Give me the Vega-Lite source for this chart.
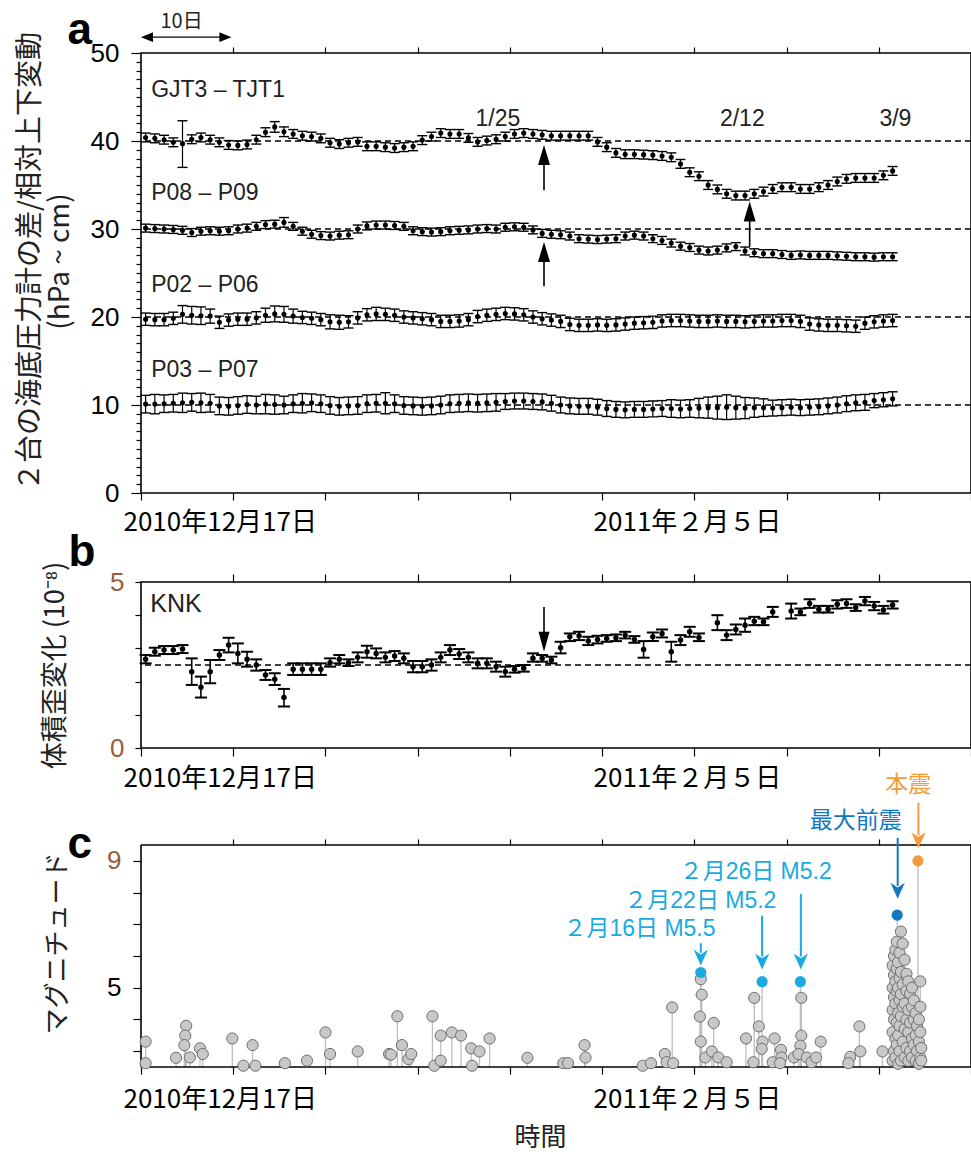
{
"$schema": "https://vega.github.io/schema/vega-lite/v6.json",
"background": "white",
"padding": {"left": 15, "top": 7, "right": 0, "bottom": 2},
"bounds": "flush",
"spacing": 89,
"config": {
  "view": {"stroke": "black", "strokeWidth": 1.6},
  "axis": {"grid": false, "domain": false, "tickColor": "black", "tickWidth": 1.2, "labelColor": "black", "labelFont": "Liberation Sans", "labelFontSize": 26, "labelLimit": 0, "titleFont": "Noto Sans CJK JP", "titleFontSize": 26, "titleFontWeight": "normal", "titleColor": "#222222", "labelOverlap": false, "labelFlush": false},
  "text": {"font": "Liberation Sans"}
},
"datasets": {
"pa": [
{"s":"G","d":0.5,"v":40.4,"lo":39.9,"hi":40.9},{"s":"G","d":1.5,"v":40.3,"lo":39.8,"hi":40.8},{"s":"G","d":2.5,"v":40.15,"lo":39.65,"hi":40.65},{"s":"G","d":3.5,"v":39.85,"lo":39.35,"hi":40.35},{"s":"G","d":4.5,"v":39.7,"lo":37.0,"hi":42.3},{"s":"G","d":5.5,"v":40.2,"lo":39.7,"hi":40.7},{"s":"G","d":6.5,"v":40.4,"lo":39.9,"hi":40.9},{"s":"G","d":7.5,"v":40.15,"lo":39.65,"hi":40.65},{"s":"G","d":8.5,"v":39.85,"lo":39.35,"hi":40.35},{"s":"G","d":9.5,"v":39.55,"lo":39.05,"hi":40.05},
{"s":"G","d":10.5,"v":39.5,"lo":39.0,"hi":40.0},{"s":"G","d":11.5,"v":39.6,"lo":39.1,"hi":40.1},{"s":"G","d":12.5,"v":40.15,"lo":39.65,"hi":40.65},{"s":"G","d":13.5,"v":41.0,"lo":40.5,"hi":41.5},{"s":"G","d":14.5,"v":41.6,"lo":41.0,"hi":42.2},{"s":"G","d":15.5,"v":41.05,"lo":40.5,"hi":41.6},{"s":"G","d":16.5,"v":40.8,"lo":40.3,"hi":41.3},{"s":"G","d":17.5,"v":40.6,"lo":40.1,"hi":41.1},{"s":"G","d":18.5,"v":40.5,"lo":40.0,"hi":41.0},{"s":"G","d":19.5,"v":40.3,"lo":39.8,"hi":40.8},
{"s":"G","d":20.5,"v":39.8,"lo":39.3,"hi":40.3},{"s":"G","d":21.5,"v":39.65,"lo":39.15,"hi":40.15},{"s":"G","d":22.5,"v":39.8,"lo":39.3,"hi":40.3},{"s":"G","d":23.5,"v":39.9,"lo":39.4,"hi":40.4},{"s":"G","d":24.5,"v":39.4,"lo":38.9,"hi":39.9},{"s":"G","d":25.5,"v":39.4,"lo":38.9,"hi":39.9},{"s":"G","d":26.5,"v":39.3,"lo":38.8,"hi":39.8},{"s":"G","d":27.5,"v":39.2,"lo":38.7,"hi":39.7},{"s":"G","d":28.5,"v":39.3,"lo":38.8,"hi":39.8},{"s":"G","d":29.5,"v":39.4,"lo":38.9,"hi":39.9},
{"s":"G","d":30.5,"v":40.1,"lo":39.6,"hi":40.6},{"s":"G","d":31.5,"v":40.5,"lo":40.0,"hi":41.0},{"s":"G","d":32.5,"v":40.9,"lo":40.4,"hi":41.4},{"s":"G","d":33.5,"v":40.8,"lo":40.3,"hi":41.3},{"s":"G","d":34.5,"v":40.8,"lo":40.3,"hi":41.3},{"s":"G","d":35.5,"v":40.35,"lo":39.85,"hi":40.85},{"s":"G","d":36.5,"v":39.9,"lo":39.4,"hi":40.4},{"s":"G","d":37.5,"v":40.05,"lo":39.55,"hi":40.55},{"s":"G","d":38.5,"v":40.2,"lo":39.7,"hi":40.7},{"s":"G","d":39.5,"v":40.5,"lo":40.0,"hi":41.0},
{"s":"G","d":40.5,"v":40.8,"lo":40.3,"hi":41.3},{"s":"G","d":41.5,"v":40.9,"lo":40.4,"hi":41.4},{"s":"G","d":42.5,"v":40.8,"lo":40.3,"hi":41.3},{"s":"G","d":43.5,"v":40.7,"lo":40.2,"hi":41.2},{"s":"G","d":44.5,"v":40.6,"lo":40.1,"hi":41.1},{"s":"G","d":45.5,"v":40.6,"lo":40.1,"hi":41.1},{"s":"G","d":46.5,"v":40.6,"lo":40.1,"hi":41.1},{"s":"G","d":47.5,"v":40.6,"lo":40.1,"hi":41.1},{"s":"G","d":48.5,"v":40.6,"lo":40.1,"hi":41.1},{"s":"G","d":49.5,"v":39.9,"lo":39.4,"hi":40.4},
{"s":"G","d":50.5,"v":39.3,"lo":38.8,"hi":39.8},{"s":"G","d":51.5,"v":38.65,"lo":38.15,"hi":39.15},{"s":"G","d":52.5,"v":38.5,"lo":38.0,"hi":39.0},{"s":"G","d":53.5,"v":38.5,"lo":38.0,"hi":39.0},{"s":"G","d":54.5,"v":38.45,"lo":37.95,"hi":38.95},{"s":"G","d":55.5,"v":38.4,"lo":37.9,"hi":38.9},{"s":"G","d":56.5,"v":38.3,"lo":37.8,"hi":38.8},{"s":"G","d":57.5,"v":38.15,"lo":37.65,"hi":38.65},{"s":"G","d":58.5,"v":37.4,"lo":36.9,"hi":37.9},{"s":"G","d":59.5,"v":36.45,"lo":35.95,"hi":36.95},
{"s":"G","d":60.5,"v":36.0,"lo":35.5,"hi":36.5},{"s":"G","d":61.5,"v":35.0,"lo":34.5,"hi":35.5},{"s":"G","d":62.5,"v":34.5,"lo":34.0,"hi":35.0},{"s":"G","d":63.5,"v":34.0,"lo":33.5,"hi":34.5},{"s":"G","d":64.5,"v":33.8,"lo":33.3,"hi":34.3},{"s":"G","d":65.5,"v":33.8,"lo":33.3,"hi":34.3},{"s":"G","d":66.5,"v":34.0,"lo":33.5,"hi":34.5},{"s":"G","d":67.5,"v":34.25,"lo":33.75,"hi":34.75},{"s":"G","d":68.5,"v":34.55,"lo":34.05,"hi":35.05},{"s":"G","d":69.5,"v":34.75,"lo":34.25,"hi":35.25},
{"s":"G","d":70.5,"v":34.75,"lo":34.25,"hi":35.25},{"s":"G","d":71.5,"v":34.55,"lo":34.05,"hi":35.05},{"s":"G","d":72.5,"v":34.55,"lo":34.05,"hi":35.05},{"s":"G","d":73.5,"v":34.75,"lo":34.25,"hi":35.25},{"s":"G","d":74.5,"v":35.0,"lo":34.5,"hi":35.5},{"s":"G","d":75.5,"v":35.4,"lo":34.9,"hi":35.9},{"s":"G","d":76.5,"v":35.7,"lo":35.2,"hi":36.2},{"s":"G","d":77.5,"v":35.8,"lo":35.3,"hi":36.3},{"s":"G","d":78.5,"v":35.8,"lo":35.3,"hi":36.3},{"s":"G","d":79.5,"v":35.8,"lo":35.3,"hi":36.3},
{"s":"G","d":80.5,"v":36.1,"lo":35.6,"hi":36.6},{"s":"G","d":81.5,"v":36.6,"lo":36.1,"hi":37.1},
{"s":"P8","d":0.5,"v":30.1,"lo":29.65,"hi":30.55},{"s":"P8","d":1.5,"v":30.05,"lo":29.6,"hi":30.5},{"s":"P8","d":2.5,"v":30.0,"lo":29.55,"hi":30.45},{"s":"P8","d":3.5,"v":29.95,"lo":29.5,"hi":30.4},{"s":"P8","d":4.5,"v":29.85,"lo":29.4,"hi":30.3},{"s":"P8","d":5.5,"v":29.6,"lo":29.15,"hi":30.05},{"s":"P8","d":6.5,"v":29.75,"lo":29.3,"hi":30.2},{"s":"P8","d":7.5,"v":29.8,"lo":29.35,"hi":30.25},{"s":"P8","d":8.5,"v":29.75,"lo":29.3,"hi":30.2},{"s":"P8","d":9.5,"v":29.8,"lo":29.35,"hi":30.25},
{"s":"P8","d":10.5,"v":30.0,"lo":29.55,"hi":30.45},{"s":"P8","d":11.5,"v":30.1,"lo":29.65,"hi":30.55},{"s":"P8","d":12.5,"v":30.3,"lo":29.85,"hi":30.75},{"s":"P8","d":13.5,"v":30.5,"lo":30.05,"hi":30.95},{"s":"P8","d":14.5,"v":30.55,"lo":30.1,"hi":31.0},{"s":"P8","d":15.5,"v":30.75,"lo":30.2,"hi":31.3},{"s":"P8","d":16.5,"v":30.3,"lo":29.85,"hi":30.75},{"s":"P8","d":17.5,"v":29.75,"lo":29.3,"hi":30.2},{"s":"P8","d":18.5,"v":29.4,"lo":28.95,"hi":29.85},{"s":"P8","d":19.5,"v":29.25,"lo":28.8,"hi":29.7},
{"s":"P8","d":20.5,"v":29.2,"lo":28.75,"hi":29.65},{"s":"P8","d":21.5,"v":29.3,"lo":28.85,"hi":29.75},{"s":"P8","d":22.5,"v":29.35,"lo":28.9,"hi":29.8},{"s":"P8","d":23.5,"v":30.0,"lo":29.55,"hi":30.45},{"s":"P8","d":24.5,"v":30.35,"lo":29.9,"hi":30.8},{"s":"P8","d":25.5,"v":30.45,"lo":30.0,"hi":30.9},{"s":"P8","d":26.5,"v":30.45,"lo":30.0,"hi":30.9},{"s":"P8","d":27.5,"v":30.4,"lo":29.95,"hi":30.85},{"s":"P8","d":28.5,"v":30.3,"lo":29.85,"hi":30.75},{"s":"P8","d":29.5,"v":29.8,"lo":29.35,"hi":30.25},
{"s":"P8","d":30.5,"v":29.7,"lo":29.25,"hi":30.15},{"s":"P8","d":31.5,"v":29.65,"lo":29.2,"hi":30.1},{"s":"P8","d":32.5,"v":29.7,"lo":29.25,"hi":30.15},{"s":"P8","d":33.5,"v":29.8,"lo":29.35,"hi":30.25},{"s":"P8","d":34.5,"v":29.85,"lo":29.4,"hi":30.3},{"s":"P8","d":35.5,"v":29.9,"lo":29.45,"hi":30.35},{"s":"P8","d":36.5,"v":30.0,"lo":29.55,"hi":30.45},{"s":"P8","d":37.5,"v":30.05,"lo":29.6,"hi":30.5},{"s":"P8","d":38.5,"v":30.0,"lo":29.55,"hi":30.45},{"s":"P8","d":39.5,"v":30.2,"lo":29.75,"hi":30.65},
{"s":"P8","d":40.5,"v":30.25,"lo":29.8,"hi":30.7},{"s":"P8","d":41.5,"v":30.2,"lo":29.75,"hi":30.65},{"s":"P8","d":42.5,"v":29.9,"lo":29.45,"hi":30.35},{"s":"P8","d":43.5,"v":29.5,"lo":29.05,"hi":29.95},{"s":"P8","d":44.5,"v":29.4,"lo":28.95,"hi":29.85},{"s":"P8","d":45.5,"v":29.35,"lo":28.9,"hi":29.8},{"s":"P8","d":46.5,"v":29.2,"lo":28.75,"hi":29.65},{"s":"P8","d":47.5,"v":28.9,"lo":28.45,"hi":29.35},{"s":"P8","d":48.5,"v":28.85,"lo":28.4,"hi":29.3},{"s":"P8","d":49.5,"v":28.8,"lo":28.35,"hi":29.25},
{"s":"P8","d":50.5,"v":28.85,"lo":28.4,"hi":29.3},{"s":"P8","d":51.5,"v":28.9,"lo":28.45,"hi":29.35},{"s":"P8","d":52.5,"v":29.2,"lo":28.75,"hi":29.65},{"s":"P8","d":53.5,"v":29.3,"lo":28.85,"hi":29.75},{"s":"P8","d":54.5,"v":29.2,"lo":28.75,"hi":29.65},{"s":"P8","d":55.5,"v":28.9,"lo":28.45,"hi":29.35},{"s":"P8","d":56.5,"v":28.7,"lo":28.25,"hi":29.15},{"s":"P8","d":57.5,"v":28.4,"lo":27.95,"hi":28.85},{"s":"P8","d":58.5,"v":28.05,"lo":27.6,"hi":28.5},{"s":"P8","d":59.5,"v":27.9,"lo":27.45,"hi":28.35},
{"s":"P8","d":60.5,"v":27.6,"lo":27.15,"hi":28.05},{"s":"P8","d":61.5,"v":27.5,"lo":27.05,"hi":27.95},{"s":"P8","d":62.5,"v":27.6,"lo":27.15,"hi":28.05},{"s":"P8","d":63.5,"v":27.85,"lo":27.4,"hi":28.3},{"s":"P8","d":64.5,"v":28.0,"lo":27.55,"hi":28.45},{"s":"P8","d":65.5,"v":27.5,"lo":27.05,"hi":27.95},{"s":"P8","d":66.5,"v":27.3,"lo":26.85,"hi":27.75},{"s":"P8","d":67.5,"v":27.2,"lo":26.75,"hi":27.65},{"s":"P8","d":68.5,"v":27.2,"lo":26.75,"hi":27.65},{"s":"P8","d":69.5,"v":27.1,"lo":26.65,"hi":27.55},
{"s":"P8","d":70.5,"v":27.0,"lo":26.55,"hi":27.45},{"s":"P8","d":71.5,"v":27.05,"lo":26.6,"hi":27.5},{"s":"P8","d":72.5,"v":27.0,"lo":26.55,"hi":27.45},{"s":"P8","d":73.5,"v":27.0,"lo":26.55,"hi":27.45},{"s":"P8","d":74.5,"v":27.0,"lo":26.55,"hi":27.45},{"s":"P8","d":75.5,"v":26.95,"lo":26.5,"hi":27.4},{"s":"P8","d":76.5,"v":26.9,"lo":26.45,"hi":27.35},{"s":"P8","d":77.5,"v":26.85,"lo":26.4,"hi":27.3},{"s":"P8","d":78.5,"v":26.85,"lo":26.4,"hi":27.3},{"s":"P8","d":79.5,"v":26.8,"lo":26.35,"hi":27.25},
{"s":"P8","d":80.5,"v":26.85,"lo":26.4,"hi":27.3},{"s":"P8","d":81.5,"v":26.85,"lo":26.4,"hi":27.3},
{"s":"P2","d":0.5,"v":19.75,"lo":19.05,"hi":20.45},{"s":"P2","d":1.5,"v":19.7,"lo":19.0,"hi":20.4},{"s":"P2","d":2.5,"v":19.7,"lo":19.0,"hi":20.4},{"s":"P2","d":3.5,"v":19.85,"lo":19.15,"hi":20.55},{"s":"P2","d":4.5,"v":20.3,"lo":19.3,"hi":21.3},{"s":"P2","d":5.5,"v":20.2,"lo":19.2,"hi":21.2},{"s":"P2","d":6.5,"v":20.15,"lo":19.15,"hi":21.15},{"s":"P2","d":7.5,"v":20.1,"lo":19.3,"hi":20.9},{"s":"P2","d":8.5,"v":19.4,"lo":18.7,"hi":20.1},{"s":"P2","d":9.5,"v":19.65,"lo":18.95,"hi":20.35},
{"s":"P2","d":10.5,"v":19.75,"lo":19.05,"hi":20.45},{"s":"P2","d":11.5,"v":19.75,"lo":19.05,"hi":20.45},{"s":"P2","d":12.5,"v":19.9,"lo":19.2,"hi":20.6},{"s":"P2","d":13.5,"v":20.2,"lo":19.4,"hi":21.0},{"s":"P2","d":14.5,"v":20.35,"lo":19.45,"hi":21.25},{"s":"P2","d":15.5,"v":20.3,"lo":19.4,"hi":21.2},{"s":"P2","d":16.5,"v":20.1,"lo":19.3,"hi":20.9},{"s":"P2","d":17.5,"v":19.95,"lo":19.25,"hi":20.65},{"s":"P2","d":18.5,"v":19.85,"lo":19.15,"hi":20.55},{"s":"P2","d":19.5,"v":19.7,"lo":19.0,"hi":20.4},
{"s":"P2","d":20.5,"v":19.45,"lo":18.65,"hi":20.25},{"s":"P2","d":21.5,"v":19.4,"lo":18.6,"hi":20.2},{"s":"P2","d":22.5,"v":19.45,"lo":18.75,"hi":20.15},{"s":"P2","d":23.5,"v":19.9,"lo":19.2,"hi":20.6},{"s":"P2","d":24.5,"v":20.25,"lo":19.55,"hi":20.95},{"s":"P2","d":25.5,"v":20.35,"lo":19.6,"hi":21.1},{"s":"P2","d":26.5,"v":20.3,"lo":19.6,"hi":21.0},{"s":"P2","d":27.5,"v":20.2,"lo":19.5,"hi":20.9},{"s":"P2","d":28.5,"v":20.0,"lo":19.3,"hi":20.7},{"s":"P2","d":29.5,"v":19.9,"lo":19.2,"hi":20.6},
{"s":"P2","d":30.5,"v":19.8,"lo":19.1,"hi":20.5},{"s":"P2","d":31.5,"v":19.7,"lo":19.0,"hi":20.4},{"s":"P2","d":32.5,"v":19.5,"lo":18.8,"hi":20.2},{"s":"P2","d":33.5,"v":19.5,"lo":18.8,"hi":20.2},{"s":"P2","d":34.5,"v":19.55,"lo":18.85,"hi":20.25},{"s":"P2","d":35.5,"v":19.7,"lo":19.0,"hi":20.4},{"s":"P2","d":36.5,"v":20.05,"lo":19.35,"hi":20.75},{"s":"P2","d":37.5,"v":20.2,"lo":19.5,"hi":20.9},{"s":"P2","d":38.5,"v":20.3,"lo":19.6,"hi":21.0},{"s":"P2","d":39.5,"v":20.4,"lo":19.7,"hi":21.1},
{"s":"P2","d":40.5,"v":20.35,"lo":19.65,"hi":21.05},{"s":"P2","d":41.5,"v":20.25,"lo":19.55,"hi":20.95},{"s":"P2","d":42.5,"v":20.0,"lo":19.3,"hi":20.7},{"s":"P2","d":43.5,"v":19.8,"lo":19.1,"hi":20.5},{"s":"P2","d":44.5,"v":19.65,"lo":18.95,"hi":20.35},{"s":"P2","d":45.5,"v":19.5,"lo":18.8,"hi":20.2},{"s":"P2","d":46.5,"v":19.15,"lo":18.45,"hi":19.85},{"s":"P2","d":47.5,"v":19.05,"lo":18.35,"hi":19.75},{"s":"P2","d":48.5,"v":19.05,"lo":18.35,"hi":19.75},{"s":"P2","d":49.5,"v":19.1,"lo":18.4,"hi":19.8},
{"s":"P2","d":50.5,"v":19.05,"lo":18.35,"hi":19.75},{"s":"P2","d":51.5,"v":19.1,"lo":18.4,"hi":19.8},{"s":"P2","d":52.5,"v":19.2,"lo":18.5,"hi":19.9},{"s":"P2","d":53.5,"v":19.3,"lo":18.6,"hi":20.0},{"s":"P2","d":54.5,"v":19.35,"lo":18.65,"hi":20.05},{"s":"P2","d":55.5,"v":19.4,"lo":18.7,"hi":20.1},{"s":"P2","d":56.5,"v":19.55,"lo":18.85,"hi":20.25},{"s":"P2","d":57.5,"v":19.6,"lo":18.9,"hi":20.3},{"s":"P2","d":58.5,"v":19.6,"lo":18.9,"hi":20.3},{"s":"P2","d":59.5,"v":19.55,"lo":18.85,"hi":20.25},
{"s":"P2","d":60.5,"v":19.5,"lo":18.8,"hi":20.2},{"s":"P2","d":61.5,"v":19.5,"lo":18.8,"hi":20.2},{"s":"P2","d":62.5,"v":19.55,"lo":18.85,"hi":20.25},{"s":"P2","d":63.5,"v":19.5,"lo":18.8,"hi":20.2},{"s":"P2","d":64.5,"v":19.5,"lo":18.8,"hi":20.2},{"s":"P2","d":65.5,"v":19.45,"lo":18.75,"hi":20.15},{"s":"P2","d":66.5,"v":19.5,"lo":18.8,"hi":20.2},{"s":"P2","d":67.5,"v":19.55,"lo":18.85,"hi":20.25},{"s":"P2","d":68.5,"v":19.55,"lo":18.85,"hi":20.25},{"s":"P2","d":69.5,"v":19.6,"lo":18.9,"hi":20.3},
{"s":"P2","d":70.5,"v":19.6,"lo":18.9,"hi":20.3},{"s":"P2","d":71.5,"v":19.5,"lo":18.8,"hi":20.2},{"s":"P2","d":72.5,"v":19.2,"lo":18.5,"hi":19.9},{"s":"P2","d":73.5,"v":19.1,"lo":18.4,"hi":19.8},{"s":"P2","d":74.5,"v":19.05,"lo":18.35,"hi":19.75},{"s":"P2","d":75.5,"v":19.05,"lo":18.35,"hi":19.75},{"s":"P2","d":76.5,"v":19.0,"lo":18.3,"hi":19.7},{"s":"P2","d":77.5,"v":18.95,"lo":18.25,"hi":19.65},{"s":"P2","d":78.5,"v":19.3,"lo":18.6,"hi":20.0},{"s":"P2","d":79.5,"v":19.45,"lo":18.75,"hi":20.15},
{"s":"P2","d":80.5,"v":19.55,"lo":18.85,"hi":20.25},{"s":"P2","d":81.5,"v":19.6,"lo":18.9,"hi":20.3},
{"s":"P3","d":0.5,"v":10.1,"lo":9.1,"hi":11.1},{"s":"P3","d":1.5,"v":10.1,"lo":9.0,"hi":11.2},{"s":"P3","d":2.5,"v":10.15,"lo":9.15,"hi":11.15},{"s":"P3","d":3.5,"v":10.2,"lo":9.2,"hi":11.2},{"s":"P3","d":4.5,"v":10.25,"lo":9.15,"hi":11.35},{"s":"P3","d":5.5,"v":10.3,"lo":9.3,"hi":11.3},{"s":"P3","d":6.5,"v":10.25,"lo":9.15,"hi":11.35},{"s":"P3","d":7.5,"v":10.2,"lo":9.2,"hi":11.2},{"s":"P3","d":8.5,"v":9.9,"lo":8.9,"hi":10.9},{"s":"P3","d":9.5,"v":9.85,"lo":8.85,"hi":10.85},
{"s":"P3","d":10.5,"v":9.95,"lo":8.95,"hi":10.95},{"s":"P3","d":11.5,"v":10.05,"lo":9.05,"hi":11.05},{"s":"P3","d":12.5,"v":10.0,"lo":9.0,"hi":11.0},{"s":"P3","d":13.5,"v":10.1,"lo":9.0,"hi":11.2},{"s":"P3","d":14.5,"v":10.05,"lo":8.95,"hi":11.15},{"s":"P3","d":15.5,"v":10.0,"lo":9.0,"hi":11.0},{"s":"P3","d":16.5,"v":10.15,"lo":9.15,"hi":11.15},{"s":"P3","d":17.5,"v":10.2,"lo":9.1,"hi":11.3},{"s":"P3","d":18.5,"v":10.25,"lo":9.25,"hi":11.25},{"s":"P3","d":19.5,"v":10.15,"lo":9.15,"hi":11.15},
{"s":"P3","d":20.5,"v":9.95,"lo":8.95,"hi":10.95},{"s":"P3","d":21.5,"v":9.85,"lo":8.85,"hi":10.85},{"s":"P3","d":22.5,"v":9.9,"lo":8.9,"hi":10.9},{"s":"P3","d":23.5,"v":9.95,"lo":8.95,"hi":10.95},{"s":"P3","d":24.5,"v":10.15,"lo":9.15,"hi":11.15},{"s":"P3","d":25.5,"v":10.2,"lo":9.2,"hi":11.2},{"s":"P3","d":26.5,"v":10.2,"lo":9.0,"hi":11.4},{"s":"P3","d":27.5,"v":10.15,"lo":9.15,"hi":11.15},{"s":"P3","d":28.5,"v":9.95,"lo":8.95,"hi":10.95},{"s":"P3","d":29.5,"v":9.9,"lo":8.9,"hi":10.9},
{"s":"P3","d":30.5,"v":9.85,"lo":8.85,"hi":10.85},{"s":"P3","d":31.5,"v":9.9,"lo":8.9,"hi":10.9},{"s":"P3","d":32.5,"v":10.0,"lo":9.0,"hi":11.0},{"s":"P3","d":33.5,"v":10.15,"lo":9.15,"hi":11.15},{"s":"P3","d":34.5,"v":10.2,"lo":9.2,"hi":11.2},{"s":"P3","d":35.5,"v":10.25,"lo":9.25,"hi":11.25},{"s":"P3","d":36.5,"v":10.2,"lo":9.2,"hi":11.2},{"s":"P3","d":37.5,"v":10.25,"lo":9.25,"hi":11.25},{"s":"P3","d":38.5,"v":10.3,"lo":9.3,"hi":11.3},{"s":"P3","d":39.5,"v":10.4,"lo":9.5,"hi":11.3},
{"s":"P3","d":40.5,"v":10.45,"lo":9.55,"hi":11.35},{"s":"P3","d":41.5,"v":10.45,"lo":9.55,"hi":11.35},{"s":"P3","d":42.5,"v":10.4,"lo":9.5,"hi":11.3},{"s":"P3","d":43.5,"v":10.35,"lo":9.45,"hi":11.25},{"s":"P3","d":44.5,"v":10.2,"lo":9.3,"hi":11.1},{"s":"P3","d":45.5,"v":10.0,"lo":9.1,"hi":10.9},{"s":"P3","d":46.5,"v":9.9,"lo":9.0,"hi":10.8},{"s":"P3","d":47.5,"v":9.85,"lo":8.95,"hi":10.75},{"s":"P3","d":48.5,"v":9.85,"lo":8.95,"hi":10.75},{"s":"P3","d":49.5,"v":9.75,"lo":8.85,"hi":10.65},
{"s":"P3","d":50.5,"v":9.6,"lo":8.7,"hi":10.5},{"s":"P3","d":51.5,"v":9.5,"lo":8.6,"hi":10.4},{"s":"P3","d":52.5,"v":9.45,"lo":8.55,"hi":10.35},{"s":"P3","d":53.5,"v":9.5,"lo":8.6,"hi":10.4},{"s":"P3","d":54.5,"v":9.5,"lo":8.6,"hi":10.4},{"s":"P3","d":55.5,"v":9.55,"lo":8.65,"hi":10.45},{"s":"P3","d":56.5,"v":9.6,"lo":8.7,"hi":10.5},{"s":"P3","d":57.5,"v":9.6,"lo":8.6,"hi":10.6},{"s":"P3","d":58.5,"v":9.55,"lo":8.55,"hi":10.55},{"s":"P3","d":59.5,"v":9.6,"lo":8.6,"hi":10.6},
{"s":"P3","d":60.5,"v":9.65,"lo":8.55,"hi":10.75},{"s":"P3","d":61.5,"v":9.7,"lo":8.5,"hi":10.9},{"s":"P3","d":62.5,"v":9.7,"lo":8.4,"hi":11.0},{"s":"P3","d":63.5,"v":9.75,"lo":8.35,"hi":11.15},{"s":"P3","d":64.5,"v":9.7,"lo":8.4,"hi":11.0},{"s":"P3","d":65.5,"v":9.65,"lo":8.45,"hi":10.85},{"s":"P3","d":66.5,"v":9.7,"lo":8.6,"hi":10.8},{"s":"P3","d":67.5,"v":9.7,"lo":8.7,"hi":10.7},{"s":"P3","d":68.5,"v":9.65,"lo":8.75,"hi":10.55},{"s":"P3","d":69.5,"v":9.7,"lo":8.8,"hi":10.6},
{"s":"P3","d":70.5,"v":9.75,"lo":8.85,"hi":10.65},{"s":"P3","d":71.5,"v":9.7,"lo":8.8,"hi":10.6},{"s":"P3","d":72.5,"v":9.75,"lo":8.85,"hi":10.65},{"s":"P3","d":73.5,"v":9.8,"lo":8.9,"hi":10.7},{"s":"P3","d":74.5,"v":9.9,"lo":9.0,"hi":10.8},{"s":"P3","d":75.5,"v":10.0,"lo":9.1,"hi":10.9},{"s":"P3","d":76.5,"v":10.15,"lo":9.25,"hi":11.05},{"s":"P3","d":77.5,"v":10.25,"lo":9.35,"hi":11.15},{"s":"P3","d":78.5,"v":10.3,"lo":9.4,"hi":11.2},{"s":"P3","d":79.5,"v":10.5,"lo":9.7,"hi":11.3},
{"s":"P3","d":80.5,"v":10.6,"lo":9.8,"hi":11.4},{"s":"P3","d":81.5,"v":10.7,"lo":9.9,"hi":11.5}
],
"pb": [
{"d":0.5,"v":2.67,"lo":2.55,"hi":2.8},{"d":1.5,"v":2.9,"lo":2.78,"hi":3.02},{"d":2.5,"v":2.95,"lo":2.83,"hi":3.07},{"d":3.5,"v":2.95,"lo":2.83,"hi":3.07},{"d":4.5,"v":2.98,"lo":2.86,"hi":3.1},{"d":5.5,"v":2.3,"lo":1.9,"hi":2.7},{"d":6.5,"v":1.83,"lo":1.52,"hi":2.15},{"d":7.5,"v":2.3,"lo":1.95,"hi":2.65},{"d":8.5,"v":2.8,"lo":2.65,"hi":2.95},{"d":9.5,"v":3.1,"lo":2.88,"hi":3.32},
{"d":10.5,"v":2.85,"lo":2.55,"hi":3.15},{"d":11.5,"v":2.67,"lo":2.45,"hi":2.9},{"d":12.5,"v":2.5,"lo":2.33,"hi":2.67},{"d":13.5,"v":2.2,"lo":2.05,"hi":2.35},{"d":14.5,"v":2.07,"lo":1.9,"hi":2.25},{"d":15.5,"v":1.52,"lo":1.25,"hi":1.78},{"d":16.5,"v":2.37,"lo":2.2,"hi":2.55},{"d":17.5,"v":2.37,"lo":2.2,"hi":2.55},{"d":18.5,"v":2.37,"lo":2.2,"hi":2.55},{"d":19.5,"v":2.37,"lo":2.2,"hi":2.55},
{"d":20.5,"v":2.57,"lo":2.45,"hi":2.7},{"d":21.5,"v":2.67,"lo":2.55,"hi":2.8},{"d":22.5,"v":2.57,"lo":2.47,"hi":2.67},{"d":23.5,"v":2.73,"lo":2.58,"hi":2.88},{"d":24.5,"v":2.9,"lo":2.72,"hi":3.08},{"d":25.5,"v":2.85,"lo":2.7,"hi":3.0},{"d":26.5,"v":2.73,"lo":2.58,"hi":2.88},{"d":27.5,"v":2.77,"lo":2.62,"hi":2.92},{"d":28.5,"v":2.7,"lo":2.55,"hi":2.85},{"d":29.5,"v":2.45,"lo":2.28,"hi":2.62},
{"d":30.5,"v":2.45,"lo":2.28,"hi":2.62},{"d":31.5,"v":2.5,"lo":2.33,"hi":2.67},{"d":32.5,"v":2.73,"lo":2.58,"hi":2.88},{"d":33.5,"v":2.95,"lo":2.8,"hi":3.1},{"d":34.5,"v":2.83,"lo":2.68,"hi":2.98},{"d":35.5,"v":2.73,"lo":2.58,"hi":2.88},{"d":36.5,"v":2.55,"lo":2.4,"hi":2.7},{"d":37.5,"v":2.55,"lo":2.4,"hi":2.7},{"d":38.5,"v":2.45,"lo":2.3,"hi":2.6},{"d":39.5,"v":2.3,"lo":2.15,"hi":2.45},
{"d":40.5,"v":2.37,"lo":2.27,"hi":2.47},{"d":41.5,"v":2.4,"lo":2.3,"hi":2.5},{"d":42.5,"v":2.7,"lo":2.6,"hi":2.85},{"d":43.5,"v":2.7,"lo":2.6,"hi":2.8},{"d":44.5,"v":2.65,"lo":2.55,"hi":2.75},{"d":45.5,"v":3.02,"lo":2.85,"hi":3.2},{"d":46.5,"v":3.35,"lo":3.22,"hi":3.45},{"d":47.5,"v":3.38,"lo":3.25,"hi":3.5},{"d":48.5,"v":3.22,"lo":3.1,"hi":3.35},{"d":49.5,"v":3.27,"lo":3.15,"hi":3.38},
{"d":50.5,"v":3.3,"lo":3.2,"hi":3.4},{"d":51.5,"v":3.32,"lo":3.22,"hi":3.42},{"d":52.5,"v":3.4,"lo":3.3,"hi":3.5},{"d":53.5,"v":3.27,"lo":3.17,"hi":3.37},{"d":54.5,"v":2.97,"lo":2.72,"hi":3.22},{"d":55.5,"v":3.35,"lo":3.22,"hi":3.48},{"d":56.5,"v":3.45,"lo":3.33,"hi":3.57},{"d":57.5,"v":2.9,"lo":2.6,"hi":3.2},{"d":58.5,"v":3.25,"lo":3.1,"hi":3.4},{"d":59.5,"v":3.5,"lo":3.35,"hi":3.65},
{"d":60.5,"v":3.33,"lo":3.22,"hi":3.45},{"d":62.5,"v":3.77,"lo":3.55,"hi":4.0},{"d":63.5,"v":3.4,"lo":3.25,"hi":3.55},{"d":64.5,"v":3.57,"lo":3.42,"hi":3.72},{"d":65.5,"v":3.7,"lo":3.5,"hi":3.9},{"d":66.5,"v":3.82,"lo":3.7,"hi":3.95},{"d":67.5,"v":3.8,"lo":3.7,"hi":3.9},{"d":68.5,"v":4.1,"lo":3.95,"hi":4.25},
{"d":70.5,"v":4.13,"lo":3.9,"hi":4.35},{"d":71.5,"v":4.1,"lo":4.0,"hi":4.2},{"d":72.5,"v":4.35,"lo":4.22,"hi":4.48},{"d":73.5,"v":4.18,"lo":4.08,"hi":4.28},{"d":74.5,"v":4.18,"lo":4.08,"hi":4.28},{"d":75.5,"v":4.33,"lo":4.2,"hi":4.45},{"d":76.5,"v":4.35,"lo":4.22,"hi":4.48},{"d":77.5,"v":4.23,"lo":4.13,"hi":4.33},{"d":78.5,"v":4.43,"lo":4.3,"hi":4.55},{"d":79.5,"v":4.28,"lo":4.15,"hi":4.4},
{"d":80.5,"v":4.16,"lo":4.05,"hi":4.28},{"d":81.5,"v":4.31,"lo":4.2,"hi":4.42}
],
"pc": [
{"d":0.5,"m":3.3,"t":"g"},{"d":0.5,"m":2.62,"t":"g"},{"d":3.8,"m":2.79,"t":"g"},{"d":4.9,"m":3.8,"t":"g"},{"d":4.8,"m":3.49,"t":"g"},{"d":4.7,"m":3.19,"t":"g"},{"d":5.3,"m":2.8,"t":"g"},{"d":6.4,"m":3.09,"t":"g"},{"d":6.7,"m":2.91,"t":"g"},{"d":9.9,"m":3.4,"t":"g"},
{"d":11.1,"m":2.54,"t":"g"},{"d":12.1,"m":3.19,"t":"g"},{"d":12.4,"m":2.54,"t":"g"},{"d":15.6,"m":2.62,"t":"g"},{"d":18.0,"m":2.7,"t":"g"},{"d":20.0,"m":3.59,"t":"g"},{"d":20.5,"m":2.91,"t":"g"},{"d":23.5,"m":2.99,"t":"g"},{"d":26.9,"m":2.91,"t":"g"},{"d":27.1,"m":2.89,"t":"g"},
{"d":27.8,"m":4.1,"t":"g"},{"d":28.3,"m":3.19,"t":"g"},{"d":29.0,"m":2.75,"t":"g"},{"d":29.3,"m":2.91,"t":"g"},{"d":31.6,"m":4.1,"t":"g"},{"d":31.8,"m":2.54,"t":"g"},{"d":32.5,"m":3.49,"t":"g"},{"d":32.5,"m":2.7,"t":"g"},{"d":33.7,"m":3.59,"t":"g"},{"d":34.7,"m":3.49,"t":"g"},
{"d":35.8,"m":3.09,"t":"g"},{"d":35.9,"m":2.54,"t":"g"},{"d":36.7,"m":2.99,"t":"g"},{"d":37.8,"m":3.4,"t":"g"},{"d":41.9,"m":2.79,"t":"g"},{"d":45.8,"m":2.62,"t":"g"},{"d":46.3,"m":2.62,"t":"g"},{"d":48.1,"m":3.19,"t":"g"},{"d":48.2,"m":2.8,"t":"g"},{"d":54.4,"m":2.54,"t":"g"},
{"d":55.3,"m":2.62,"t":"g"},{"d":56.8,"m":2.91,"t":"g"},{"d":57.6,"m":4.38,"t":"g"},{"d":57.0,"m":2.65,"t":"g"},{"d":57.7,"m":2.62,"t":"g"},{"d":60.7,"m":5.27,"t":"g"},{"d":60.8,"m":4.78,"t":"g"},{"d":60.6,"m":4.09,"t":"g"},{"d":60.7,"m":3.3,"t":"g"},{"d":61.2,"m":2.8,"t":"g"},
{"d":61.9,"m":2.99,"t":"g"},{"d":62.1,"m":3.89,"t":"g"},{"d":62.6,"m":2.8,"t":"g"},{"d":63.5,"m":2.65,"t":"g"},{"d":65.6,"m":3.4,"t":"g"},{"d":66.5,"m":4.68,"t":"g"},{"d":66.4,"m":2.65,"t":"g"},{"d":67.0,"m":3.78,"t":"g"},{"d":67.4,"m":3.3,"t":"g"},{"d":67.3,"m":3.07,"t":"g"},
{"d":68.7,"m":3.4,"t":"g"},{"d":68.5,"m":2.65,"t":"g"},{"d":69.4,"m":3.04,"t":"g"},{"d":69.45,"m":2.8,"t":"g"},{"d":69.3,"m":2.62,"t":"g"},{"d":70.8,"m":2.8,"t":"g"},{"d":71.6,"m":4.68,"t":"g"},{"d":71.6,"m":3.49,"t":"g"},{"d":71.5,"m":3.17,"t":"g"},{"d":71.3,"m":2.91,"t":"g"},
{"d":72.2,"m":2.8,"t":"g"},{"d":72.7,"m":2.65,"t":"g"},{"d":73.2,"m":2.8,"t":"g"},{"d":73.7,"m":3.3,"t":"g"},{"d":76.9,"m":2.82,"t":"g"},{"d":76.7,"m":2.62,"t":"g"},{"d":77.9,"m":3.78,"t":"g"},{"d":78.0,"m":2.99,"t":"g"},{"d":80.4,"m":2.99,"t":"g"},
{"d":81.5,"m":2.7,"t":"g"},{"d":81.5,"m":3.6,"t":"g"},{"d":81.5,"m":4.3,"t":"g"},{"d":81.5,"m":5.0,"t":"g"},{"d":81.5,"m":5.7,"t":"g"},
{"d":81.65,"m":3.0,"t":"g"},{"d":81.65,"m":4.0,"t":"g"},{"d":81.65,"m":4.7,"t":"g"},{"d":81.65,"m":5.4,"t":"g"},{"d":81.65,"m":6.0,"t":"g"},
{"d":81.8,"m":2.8,"t":"g"},{"d":81.8,"m":3.4,"t":"g"},{"d":81.8,"m":4.5,"t":"g"},{"d":81.8,"m":5.2,"t":"g"},{"d":81.8,"m":6.2,"t":"g"},
{"d":81.95,"m":3.2,"t":"g"},{"d":81.95,"m":3.9,"t":"g"},{"d":81.95,"m":4.9,"t":"g"},{"d":81.95,"m":5.6,"t":"g"},{"d":81.95,"m":6.45,"t":"g"},
{"d":82.1,"m":2.6,"t":"g"},{"d":82.1,"m":3.5,"t":"g"},{"d":82.1,"m":4.2,"t":"g"},{"d":82.1,"m":5.0,"t":"g"},{"d":82.1,"m":5.8,"t":"g"},
{"d":82.25,"m":3.0,"t":"g"},{"d":82.25,"m":3.8,"t":"g"},{"d":82.25,"m":4.6,"t":"g"},{"d":82.25,"m":5.3,"t":"g"},{"d":82.25,"m":6.1,"t":"g"},
{"d":82.4,"m":2.7,"t":"g"},{"d":82.4,"m":4.1,"t":"g"},{"d":82.4,"m":4.8,"t":"g"},{"d":82.4,"m":5.5,"t":"g"},{"d":82.4,"m":6.77,"t":"g"},
{"d":82.6,"m":3.3,"t":"g"},{"d":82.6,"m":4.4,"t":"g"},{"d":82.6,"m":5.1,"t":"g"},{"d":82.6,"m":6.39,"t":"g"},
{"d":82.8,"m":2.8,"t":"g"},{"d":82.8,"m":3.7,"t":"g"},{"d":82.8,"m":4.5,"t":"g"},{"d":82.8,"m":5.88,"t":"g"},
{"d":83.0,"m":3.1,"t":"g"},{"d":83.0,"m":4.0,"t":"g"},{"d":83.0,"m":4.9,"t":"g"},{"d":83.0,"m":5.44,"t":"g"},
{"d":83.2,"m":2.7,"t":"g"},{"d":83.2,"m":3.6,"t":"g"},{"d":83.2,"m":4.3,"t":"g"},{"d":83.2,"m":5.2,"t":"g"},
{"d":83.4,"m":3.0,"t":"g"},{"d":83.4,"m":3.9,"t":"g"},{"d":83.4,"m":4.81,"t":"g"},
{"d":83.6,"m":2.8,"t":"g"},{"d":83.6,"m":3.4,"t":"g"},{"d":83.6,"m":4.4,"t":"g"},{"d":83.6,"m":5.0,"t":"g"},
{"d":83.8,"m":3.2,"t":"g"},{"d":83.8,"m":4.0,"t":"g"},{"d":83.8,"m":4.6,"t":"g"},
{"d":84.0,"m":2.7,"t":"g"},{"d":84.0,"m":3.5,"t":"g"},{"d":84.0,"m":4.2,"t":"g"},
{"d":84.15,"m":3.0,"t":"g"},{"d":84.15,"m":3.8,"t":"g"},
{"d":84.35,"m":2.6,"t":"g"},{"d":84.35,"m":3.3,"t":"g"},{"d":84.35,"m":4.0,"t":"g"},
{"d":84.5,"m":2.8,"t":"g"},{"d":84.5,"m":3.6,"t":"g"},{"d":84.5,"m":4.4,"t":"g"},{"d":84.5,"m":5.2,"t":"g"},
{"d":84.6,"m":2.7,"t":"g"},{"d":84.6,"m":3.1,"t":"g"},
{"d":60.7,"m":5.48,"t":"b"},{"d":67.35,"m":5.19,"t":"b"},{"d":71.5,"m":5.19,"t":"b"},{"d":82.0,"m":7.29,"t":"d"},{"d":84.25,"m":9.0,"t":"o"}
]
},
"vconcat": [
{
 "width": 830, "height": 440,
 "resolve": {"axis": {"x": "independent", "y": "independent"}},
 "layer": [
  {
   "data": {"name": "pa"},
   "mark": {"type": "rule", "strokeWidth": 1.2, "color": "black"},
   "encoding": {
    "x": {"field": "d", "type": "quantitative", "scale": {"domain": [0, 90], "nice": false, "zero": false},
     "axis": {"orient": "bottom", "values": [0,10,20,30,40,50,60,70,80,90], "tickSize": 7, "labelFont": "Noto Sans CJK JP", "labelFontSize": 26, "labelAlign": "left", "labelPadding": 9,
      "labelOffset": {"condition": {"test": "datum.value === 0", "value": -18}, "value": -9},
      "labelExpr": "datum.value === 0 ? '2010年12月17日' : datum.value === 50 ? '2011年２月５日' : ''", "title": null}},
    "y": {"field": "lo", "type": "quantitative", "scale": {"domain": [0, 50], "nice": false, "zero": false},
     "axis": {"orient": "left", "values": [0,1,2,3,4,5,6,7,8,9,10,11,12,13,14,15,16,17,18,19,20,21,22,23,24,25,26,27,28,29,30,31,32,33,34,35,36,37,38,39,40,41,42,43,44,45,46,47,48,49,50],
      "tickSize": {"condition": {"test": "datum.value % 10 === 0", "value": 10}, "value": 5},
      "labelExpr": "datum.value % 10 === 0 ? datum.label : ''", "labelPadding": 12,
      "title": ["２台の海底圧力計の差/相対上下変動", "(hPa ~ cm)"], "titleFontSize": 28, "titleX": -111, "titleY": 208, "titleBaseline": "middle", "titleAlign": "center", "titleAngle": 270, "titleLineHeight": 30}},
    "y2": {"field": "hi"}
   }
  },
  {
   "data": {"values": [{"b": 40}, {"b": 30}, {"b": 20}, {"b": 10}]},
   "mark": {"type": "rule", "strokeDash": [6, 4], "strokeWidth": 1.3, "color": "black"},
   "encoding": {"y": {"field": "b", "type": "quantitative", "axis": null}}
  },
  {
   "data": {"name": "pa"},
   "mark": {"type": "tick", "orient": "horizontal", "size": 10, "thickness": 1.4, "color": "black", "opacity": 1},
   "encoding": {"x": {"field": "d", "type": "quantitative", "axis": null}, "y": {"field": "lo", "type": "quantitative", "axis": null}}
  },
  {
   "data": {"name": "pa"},
   "mark": {"type": "tick", "orient": "horizontal", "size": 10, "thickness": 1.4, "color": "black", "opacity": 1},
   "encoding": {"x": {"field": "d", "type": "quantitative", "axis": null}, "y": {"field": "hi", "type": "quantitative", "axis": null}}
  },
  {
   "data": {"name": "pa"},
   "mark": {"type": "point", "filled": true, "size": 26, "color": "black", "opacity": 1},
   "encoding": {
    "x": {"field": "d", "type": "quantitative", "axis": {"orient": "top", "values": [10,20,30,40,50,60,70,80], "tickSize": 6, "labels": false, "title": null}},
    "y": {"field": "v", "type": "quantitative", "axis": null}
   }
  },
  {
   "data": {"values": [{"t": "GJT3 – TJT1", "d": 1.1, "v": 45.75}, {"t": "P08 – P09", "d": 1.1, "v": 34.05}, {"t": "P02 – P06", "d": 1.1, "v": 23.58}, {"t": "P03 – P07", "d": 1.1, "v": 13.93}]},
   "mark": {"type": "text", "align": "left", "baseline": "middle", "fontSize": 23, "font": "Liberation Sans", "color": "#222222"},
   "encoding": {"x": {"field": "d", "type": "quantitative", "axis": null}, "y": {"field": "v", "type": "quantitative", "axis": null}, "text": {"field": "t"}}
  },
  {
   "data": {"values": [{"t": "1/25", "d": 38.7, "v": 42.5}, {"t": "2/12", "d": 65.2, "v": 42.5}, {"t": "3/9", "d": 81.8, "v": 42.5}]},
   "mark": {"type": "text", "align": "center", "baseline": "middle", "fontSize": 23, "font": "Liberation Sans", "color": "#222222"},
   "encoding": {"x": {"field": "d", "type": "quantitative", "axis": null}, "y": {"field": "v", "type": "quantitative", "axis": null}, "text": {"field": "t"}}
  },
  {
   "data": {"values": [{"d": 43.7, "y1": 34.4, "y2": 37.5}, {"d": 43.7, "y1": 23.5, "y2": 26.5}, {"d": 66.0, "y1": 28.0, "y2": 31.2}]},
   "mark": {"type": "rule", "strokeWidth": 1.6, "color": "black"},
   "encoding": {"x": {"field": "d", "type": "quantitative", "axis": null}, "y": {"field": "y1", "type": "quantitative", "axis": null}, "y2": {"field": "y2"}}
  },
  {
   "data": {"values": [{"d": 43.7, "v": 38.4}, {"d": 43.7, "v": 27.4}, {"d": 66.0, "v": 32.0}]},
   "mark": {"type": "point", "shape": "M0,-1L0.6,1L-0.6,1Z", "size": 400, "filled": true, "color": "black", "opacity": 1},
   "encoding": {"x": {"field": "d", "type": "quantitative", "axis": null}, "y": {"field": "v", "type": "quantitative", "axis": null}}
  },
  {
   "data": {"values": [{"x1": 0.5, "x2": 9.3, "v": 51.8}]},
   "mark": {"type": "rule", "strokeWidth": 1.4, "color": "black"},
   "encoding": {"x": {"field": "x1", "type": "quantitative", "axis": null}, "x2": {"field": "x2"}, "y": {"field": "v", "type": "quantitative", "axis": null}}
  },
  {
   "data": {"values": [{"d": 0.65, "v": 51.8, "dir": "l"}, {"d": 9.15, "v": 51.8, "dir": "r"}]},
   "mark": {"type": "point", "size": 144, "filled": true, "color": "black", "opacity": 1},
   "encoding": {"x": {"field": "d", "type": "quantitative", "axis": null}, "y": {"field": "v", "type": "quantitative", "axis": null},
    "shape": {"field": "dir", "type": "nominal", "scale": {"domain": ["l", "r"], "range": ["M-1,0L1,-0.8L1,0.8Z", "M1,0L-1,-0.8L-1,0.8Z"]}, "legend": null}}
  },
  {
   "data": {"values": [{"t": "10日", "d": 4.4, "v": 53.57}]},
   "mark": {"type": "text", "align": "center", "baseline": "middle", "fontSize": 20, "font": "Noto Sans CJK JP", "color": "#222222"},
   "encoding": {"x": {"field": "d", "type": "quantitative", "axis": null}, "y": {"field": "v", "type": "quantitative", "axis": null}, "text": {"field": "t"}}
  },
  {
   "data": {"values": [{"t": "a", "d": -6.65, "v": 51.07}]},
   "mark": {"type": "text", "align": "center", "baseline": "alphabetic", "fontSize": 44, "fontWeight": "bold", "font": "Liberation Sans", "color": "black"},
   "encoding": {"x": {"field": "d", "type": "quantitative", "axis": null}, "y": {"field": "v", "type": "quantitative", "axis": null}, "text": {"field": "t"}}
  }
 ]
},
{
 "width": 830, "height": 166,
 "resolve": {"axis": {"x": "independent", "y": "independent"}},
 "layer": [
  {
   "data": {"name": "pb"},
   "mark": {"type": "rule", "strokeWidth": 1.6, "color": "black"},
   "encoding": {
    "x": {"field": "d", "type": "quantitative", "scale": {"domain": [0, 90], "nice": false, "zero": false},
     "axis": {"orient": "bottom", "values": [0,10,20,30,40,50,60,70,80,90], "tickSize": 8, "labelFont": "Noto Sans CJK JP", "labelFontSize": 26, "labelAlign": "left", "labelPadding": 9,
      "labelOffset": {"condition": {"test": "datum.value === 0", "value": -18}, "value": -9},
      "labelExpr": "datum.value === 0 ? '2010年12月17日' : datum.value === 50 ? '2011年２月５日' : ''", "title": null}},
    "y": {"field": "lo", "type": "quantitative", "scale": {"domain": [0, 5], "nice": false, "zero": false},
     "axis": {"orient": "left", "values": [0,1,2,3,4,5], "tickSize": 6, "labelExpr": "datum.value === 0 || datum.value === 5 ? datum.label : ''", "labelPadding": 11, "labelColor": "#9a5b3a",
      "title": "体積歪変化 (10⁻⁸)", "titleFontSize": 27, "titleX": -86, "titleY": 83, "titleBaseline": "middle", "titleAlign": "center", "titleAngle": 270}},
    "y2": {"field": "hi"}
   }
  },
  {
   "data": {"values": [{"b": 2.5}]},
   "mark": {"type": "rule", "strokeDash": [6, 4], "strokeWidth": 1.3, "color": "black"},
   "encoding": {"y": {"field": "b", "type": "quantitative", "axis": null}}
  },
  {
   "data": {"name": "pb"},
   "mark": {"type": "tick", "orient": "horizontal", "size": 12, "thickness": 2, "color": "black", "opacity": 1},
   "encoding": {"x": {"field": "d", "type": "quantitative", "axis": null}, "y": {"field": "lo", "type": "quantitative", "axis": null}}
  },
  {
   "data": {"name": "pb"},
   "mark": {"type": "tick", "orient": "horizontal", "size": 12, "thickness": 2, "color": "black", "opacity": 1},
   "encoding": {"x": {"field": "d", "type": "quantitative", "axis": null}, "y": {"field": "hi", "type": "quantitative", "axis": null}}
  },
  {
   "data": {"name": "pb"},
   "mark": {"type": "point", "filled": true, "size": 30, "color": "black", "opacity": 1},
   "encoding": {
    "x": {"field": "d", "type": "quantitative", "axis": {"orient": "top", "values": [10,20,30,40,50,60,70,80], "tickSize": 8, "labels": false, "title": null}},
    "y": {"field": "v", "type": "quantitative", "axis": null}
   }
  },
  {
   "data": {"values": [{"d": 43.7, "y1": 4.25, "y2": 3.4}]},
   "mark": {"type": "rule", "strokeWidth": 1.6, "color": "black"},
   "encoding": {"x": {"field": "d", "type": "quantitative", "axis": null}, "y": {"field": "y1", "type": "quantitative", "axis": null}, "y2": {"field": "y2"}}
  },
  {
   "data": {"values": [{"d": 43.7, "v": 3.2}]},
   "mark": {"type": "point", "shape": "M0,1L0.55,-1L-0.55,-1Z", "size": 400, "filled": true, "color": "black", "opacity": 1},
   "encoding": {"x": {"field": "d", "type": "quantitative", "axis": null}, "y": {"field": "v", "type": "quantitative", "axis": null}}
  },
  {
   "data": {"values": [{"t": "KNK", "d": 1.0, "v": 4.34}]},
   "mark": {"type": "text", "align": "left", "baseline": "middle", "fontSize": 25, "font": "Liberation Sans", "color": "#222222"},
   "encoding": {"x": {"field": "d", "type": "quantitative", "axis": null}, "y": {"field": "v", "type": "quantitative", "axis": null}, "text": {"field": "t"}}
  },
  {
   "data": {"values": [{"t": "b", "d": -6.4, "v": 5.48}]},
   "mark": {"type": "text", "align": "center", "baseline": "alphabetic", "fontSize": 44, "fontWeight": "bold", "font": "Liberation Sans", "color": "black"},
   "encoding": {"x": {"field": "d", "type": "quantitative", "axis": null}, "y": {"field": "v", "type": "quantitative", "axis": null}, "text": {"field": "t"}}
  }
 ]
},
{
 "width": 830, "height": 230,
 "view": {"stroke": null},
 "resolve": {"axis": {"x": "independent", "y": "independent"}},
 "layer": [
  {
   "data": {"name": "pc"},
   "mark": {"type": "rule", "strokeWidth": 1.3, "color": "#bdbdbd"},
   "encoding": {
    "x": {"field": "d", "type": "quantitative", "scale": {"domain": [0, 90], "nice": false, "zero": false},
     "axis": {"orient": "bottom", "values": [0,10,20,30,40,50,60,70,80,90], "tickSize": 7, "labelFont": "Noto Sans CJK JP", "labelFontSize": 26, "labelAlign": "left", "labelPadding": 12,
      "labelOffset": {"condition": {"test": "datum.value === 0", "value": -18}, "value": -9},
      "labelExpr": "datum.value === 0 ? '2010年12月17日' : datum.value === 50 ? '2011年２月５日' : ''",
      "title": "時間", "titleX": 399, "titleY": 70, "titleBaseline": "middle", "titleAlign": "center"}},
    "y": {"field": "m", "type": "quantitative", "scale": {"domain": [2.5, 9.752], "nice": false, "zero": false},
     "axis": {"orient": "left", "values": [3,4,5,6,7,8,9], "tickSize": 8, "labelPadding": 12,
      "labelExpr": "datum.value === 5 || datum.value === 9 ? datum.label : ''",
      "labelColor": {"condition": {"test": "datum.value === 9", "value": "#9a5b3a"}, "value": "black"},
      "title": "マグニチュード", "titleX": -84, "titleY": 106, "titleBaseline": "middle", "titleAlign": "center", "titleAngle": 270}},
    "y2": {"datum": 2.5}
   }
  },
  {
   "data": {"values": [{}]},
   "mark": {"type": "rule", "strokeWidth": 1.6, "color": "black"},
   "encoding": {"x": {"datum": 0, "type": "quantitative", "axis": null}, "y": {"datum": 2.5, "type": "quantitative", "axis": null}, "y2": {"datum": 9.5}}
  },
  {
   "data": {"values": [{}]},
   "mark": {"type": "rule", "strokeWidth": 1.6, "color": "black"},
   "encoding": {"x": {"datum": 90, "type": "quantitative", "axis": null}, "y": {"datum": 2.5, "type": "quantitative", "axis": null}, "y2": {"datum": 9.5}}
  },
  {
   "data": {"values": [{}]},
   "mark": {"type": "rule", "strokeWidth": 1.6, "color": "black"},
   "encoding": {"x": {"datum": 0, "type": "quantitative", "axis": null}, "x2": {"datum": 90}, "y": {"datum": 9.5, "type": "quantitative", "axis": null}}
  },
  {
   "data": {"values": [{}]},
   "mark": {"type": "rule", "strokeWidth": 1.6, "color": "black"},
   "encoding": {"x": {"datum": 0, "type": "quantitative", "axis": null}, "x2": {"datum": 90}, "y": {"datum": 2.5, "type": "quantitative", "axis": null}}
  },
  {
   "data": {"name": "pc"},
   "transform": [{"filter": "datum.t === 'g'"}],
   "mark": {"type": "point", "filled": true, "size": 125, "fill": "#c8c8c8", "stroke": "#6f6f6f", "strokeWidth": 1, "opacity": 1},
   "encoding": {
    "x": {"field": "d", "type": "quantitative", "axis": {"orient": "top", "offset": -8, "values": [10,20,30,40,50,60,70,80], "tickSize": 6, "labels": false, "title": null}},
    "y": {"field": "m", "type": "quantitative", "axis": {"orient": "right", "values": [3,4,5,6,7,8,9], "tickSize": 2, "labels": false, "title": null}}
   }
  },
  {
   "data": {"name": "pc"},
   "transform": [{"filter": "datum.t !== 'g'"}],
   "mark": {"type": "point", "filled": true, "size": 125, "opacity": 1},
   "encoding": {
    "x": {"field": "d", "type": "quantitative", "axis": null},
    "y": {"field": "m", "type": "quantitative", "axis": null},
    "color": {"field": "t", "type": "nominal", "scale": {"domain": ["b", "d", "o"], "range": ["#1ba9e1", "#1477bf", "#f39b3a"]}, "legend": null}
   }
  },
  {
   "data": {"values": [{"d": 60.7, "y1": 6.4, "y2": 6.1, "t": "b"}, {"d": 67.35, "y1": 7.27, "y2": 5.98, "t": "b"}, {"d": 71.55, "y1": 7.96, "y2": 5.98, "t": "b"}, {"d": 82.05, "y1": 9.72, "y2": 8.21, "t": "d"}, {"d": 84.3, "y1": 10.83, "y2": 9.8, "t": "o"}]},
   "mark": {"type": "rule", "strokeWidth": 2},
   "encoding": {"x": {"field": "d", "type": "quantitative", "axis": null}, "y": {"field": "y1", "type": "quantitative", "axis": null}, "y2": {"field": "y2"},
    "color": {"field": "t", "type": "nominal", "legend": null}}
  },
  {
   "data": {"values": [{"d": 60.7, "v": 5.95, "t": "b"}, {"d": 67.35, "v": 5.83, "t": "b"}, {"d": 71.55, "v": 5.83, "t": "b"}, {"d": 82.05, "v": 8.06, "t": "d"}, {"d": 84.3, "v": 9.65, "t": "o"}]},
   "mark": {"type": "point", "shape": "M0,1L0.9,-1L0,-0.4L-0.9,-1Z", "size": 256, "filled": true, "opacity": 1},
   "encoding": {"x": {"field": "d", "type": "quantitative", "axis": null}, "y": {"field": "v", "type": "quantitative", "axis": null},
    "color": {"field": "t", "type": "nominal", "legend": null}}
  },
  {
   "data": {"values": [{"s": "２月16日 M5.5", "d": 62.3, "v": 6.85, "t": "b"}, {"s": "２月22日 M5.2", "d": 68.9, "v": 7.74, "t": "b"}, {"s": "２月26日 M5.2", "d": 74.9, "v": 8.66, "t": "b"}, {"s": "最大前震", "d": 82.5, "v": 10.26, "t": "d"}, {"s": "本震", "d": 85.7, "v": 11.39, "t": "o"}]},
   "mark": {"type": "text", "align": "right", "baseline": "middle", "fontSize": 23, "font": "Liberation Sans, Noto Sans CJK JP"},
   "encoding": {"x": {"field": "d", "type": "quantitative", "axis": null}, "y": {"field": "v", "type": "quantitative", "axis": null}, "text": {"field": "s"},
    "color": {"field": "t", "type": "nominal", "legend": null}}
  },
  {
   "data": {"values": [{"t": "c", "d": -6.65, "v": 9.1}]},
   "mark": {"type": "text", "align": "center", "baseline": "alphabetic", "fontSize": 44, "fontWeight": "bold", "font": "Liberation Sans", "color": "black"},
   "encoding": {"x": {"field": "d", "type": "quantitative", "axis": null}, "y": {"field": "v", "type": "quantitative", "axis": null}, "text": {"field": "t"}}
  }
 ]
}
]
}
